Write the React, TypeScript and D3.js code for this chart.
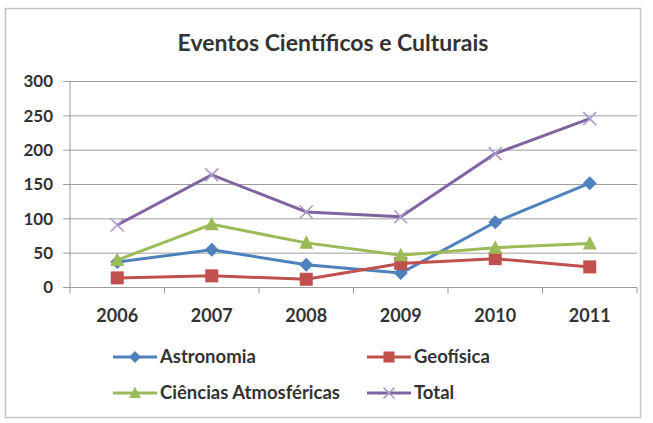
import React, { useRef, useEffect } from "react";
import * as d3 from "d3";

const years = ["2006", "2007", "2008", "2009", "2010", "2011"];
const astronomia = [37, 55, 33, 21, 95, 152];
const geofisica = [14, 17, 12, 35, 42, 30];
const cienciasAtm = [40, 92, 65, 47, 58, 64];
const total = [91, 164, 110, 103, 195, 246];
const yTicks = [0, 50, 100, 150, 200, 250, 300];

const seriesList = [
  { name: "Astronomia", values: astronomia, color: "#4F81BD", marker: "diamond" },
  { name: "Geofísica", values: geofisica, color: "#C0504D", marker: "square" },
  { name: "Ciências Atmosféricas", values: cienciasAtm, color: "#9BBB59", marker: "triangle" },
  { name: "Total", values: total, color: "#8064A2", marker: "x" }
];

const W = 653;
const H = 423;
const FONT = "Lato, 'Open Sans', sans-serif";

function drawMarker(g: any, type: string, x: number, y: number, color: string, s = 1) {
  if (type === "diamond") {
    g.append("path")
      .attr("d", `M${x},${y - 7 * s}L${x + 7 * s},${y}L${x},${y + 7 * s}L${x - 7 * s},${y}Z`)
      .attr("fill", color);
  } else if (type === "square") {
    g.append("rect")
      .attr("x", x - 6.5 * s).attr("y", y - 6.5 * s)
      .attr("width", 13 * s).attr("height", 13 * s)
      .attr("fill", color);
  } else if (type === "triangle") {
    g.append("path")
      .attr("d", `M${x},${y - 7.5 * s}L${x + 7 * s},${y + 6 * s}L${x - 7 * s},${y + 6 * s}Z`)
      .attr("fill", color);
  } else {
    const r = 6.5 * s;
    g.append("path")
      .attr("d", `M${x - r},${y - r}L${x + r},${y + r}M${x - r},${y + r}L${x + r},${y - r}`)
      .attr("stroke", "#A99BC8")
      .attr("stroke-width", 1.6)
      .attr("fill", "none");
  }
}

export default function App() {
  const svgRef = useRef<SVGSVGElement>(null);

  useEffect(() => {
    if (!svgRef.current) return;
    const svg = d3.select(svgRef.current);
    svg.selectAll("*").remove();

    // frame
    svg.append("rect")
      .attr("x", 5.5).attr("y", 8.5)
      .attr("width", 635).attr("height", 409)
      .attr("fill", "#fff")
      .attr("stroke", "#c4c4c4")
      .attr("stroke-width", 1.5);

    svg.append("text")
      .attr("x", 333).attr("y", 51)
      .attr("text-anchor", "middle")
      .attr("font-family", FONT)
      .attr("font-size", 23)
      .attr("font-weight", 700)
      .attr("fill", "#333")
      .text("Eventos Científicos e Culturais");

    const x = d3.scaleBand().domain(years).range([70, 637]);
    const y = d3.scaleLinear().domain([0, 300]).range([287.5, 81.5]);

    // gridlines + y labels
    const grid = svg.append("g");
    yTicks.forEach((t) => {
      grid.append("line")
        .attr("x1", 63).attr("x2", 637)
        .attr("y1", y(t)).attr("y2", y(t))
        .attr("stroke", "#9e9e9e")
        .attr("stroke-width", 1);
      grid.append("text")
        .attr("x", 53).attr("y", y(t))
        .attr("dy", "0.35em")
        .attr("text-anchor", "end")
        .attr("font-family", FONT)
        .attr("font-size", 17)
        .attr("font-weight", 700)
        .attr("fill", "#333")
        .text(t);
    });

    // y axis
    svg.append("line")
      .attr("x1", 70).attr("x2", 70)
      .attr("y1", y(300)).attr("y2", y(0))
      .attr("stroke", "#999");

    // x ticks
    const edges = years.map((d) => x(d) as number).concat([637]);
    edges.forEach((e) => {
      svg.append("line")
        .attr("x1", e).attr("x2", e)
        .attr("y1", y(0)).attr("y2", y(0) + 6)
        .attr("stroke", "#999");
    });
    years.forEach((d) => {
      svg.append("text")
        .attr("x", (x(d) as number) + x.bandwidth() / 2)
        .attr("y", 322)
        .attr("text-anchor", "middle")
        .attr("font-family", FONT)
        .attr("font-size", 18)
        .attr("font-weight", 700)
        .attr("fill", "#333")
        .text(d);
    });

    const cx = (d: string) => (x(d) as number) + x.bandwidth() / 2;
    const line = d3.line<number>()
      .x((_, i) => cx(years[i]))
      .y((v) => y(v));

    seriesList.forEach((s) => {
      const g = svg.append("g");
      g.append("path")
        .datum(s.values)
        .attr("d", line)
        .attr("fill", "none")
        .attr("stroke", s.color)
        .attr("stroke-width", 3)
        .attr("stroke-linejoin", "round");
      s.values.forEach((v, i) => drawMarker(g, s.marker, cx(years[i]), y(v), s.color));
    });

    // legend
    const legendPos = [
      { x: 113, y: 357 },
      { x: 367, y: 357 },
      { x: 113, y: 393 },
      { x: 367, y: 393 }
    ];
    seriesList.forEach((s, i) => {
      const p = legendPos[i];
      const g = svg.append("g");
      g.append("line")
        .attr("x1", p.x).attr("x2", p.x + 44)
        .attr("y1", p.y).attr("y2", p.y)
        .attr("stroke", s.color)
        .attr("stroke-width", 3);
      drawMarker(g, s.marker, p.x + 22, p.y, s.color, 0.85);
      g.append("text")
        .attr("x", p.x + 47).attr("y", p.y)
        .attr("dy", "0.35em")
        .attr("font-family", FONT)
        .attr("font-size", 18.5)
        .attr("font-weight", 700)
        .attr("fill", "#333")
        .text(s.name);
    });
  }, []);

  return (
    <svg
      ref={svgRef}
      width={W}
      height={H}
      style={{ position: "absolute", left: 0, top: 0, background: "#fff" }}
    />
  );
}
